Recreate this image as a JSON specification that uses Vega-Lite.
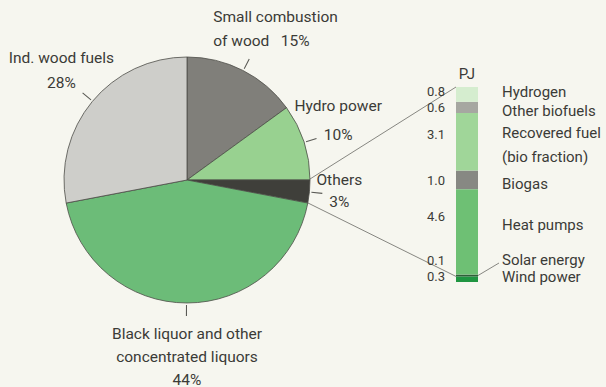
{
  "$schema": "https://vega.github.io/schema/vega-lite/v6.json",
  "width": 606,
  "height": 387,
  "autosize": {"type": "fit", "contains": "padding"},
  "padding": 0,
  "background": "#f6f6ef",
  "config": {
    "view": {"stroke": null},
    "text": {"font": "Roboto", "fill": "#3b3b37"}
  },
  "datasets": {
    "slices": [
      {"name": "Small combustion of wood", "pct": 15, "ord": 1, "caption": "Small combustion\nof wood \u00a0\u00a0"},
      {"name": "Hydro power", "pct": 10, "ord": 2, "caption": "Hydro power\n"},
      {"name": "Others", "pct": 3, "ord": 3, "caption": "Others\n"},
      {"name": "Black liquor and other concentrated liquors", "pct": 44, "ord": 4, "caption": "Black liquor and other\nconcentrated liquors\n"},
      {"name": "Ind. wood fuels", "pct": 28, "ord": 5, "caption": "Ind. wood fuels\n"}
    ],
    "others": [
      {"source": "Wind power", "pj": 0.3, "ord": 1},
      {"source": "Solar energy", "pj": 0.1, "ord": 2},
      {"source": "Heat pumps", "pj": 4.6, "ord": 3},
      {"source": "Biogas", "pj": 1.0, "ord": 4},
      {"source": "Recovered fuel\n(bio fraction)", "pj": 3.1, "ord": 5},
      {"source": "Other biofuels", "pj": 0.6, "ord": 6},
      {"source": "Hydrogen", "pj": 0.8, "ord": 7}
    ]
  },
  "layer": [
    {
      "data": {"name": "slices"},
      "transform": [
        {"stack": "pct", "groupby": [], "sort": [{"field": "ord", "order": "ascending"}], "as": ["s0", "s1"]}
      ],
      "mark": {"type": "arc", "x": 187, "y": 180, "outerRadius": 123, "stroke": "#4d4d48", "strokeWidth": 0.8},
      "encoding": {
        "theta": {"field": "s0", "type": "quantitative", "stack": null, "scale": {"domain": [0, 100], "nice": false}},
        "theta2": {"field": "s1"},
        "color": {
          "field": "name",
          "type": "nominal",
          "legend": null,
          "scale": {
            "domain": ["Small combustion of wood", "Hydro power", "Others", "Black liquor and other concentrated liquors", "Ind. wood fuels", "Hydrogen", "Other biofuels", "Recovered fuel\n(bio fraction)", "Biogas", "Heat pumps", "Solar energy", "Wind power"],
            "range": ["#807f7a", "#98d190", "#3f3f3a", "#6cbc78", "#cececa", "#d5edcf", "#a6a7a1", "#a0d699", "#878883", "#6ec074", "#2e5f38", "#1f9541"]
          }
        }
      }
    },
    {
      "data": {"name": "slices"},
      "transform": [
        {"stack": "pct", "groupby": [], "sort": [{"field": "ord", "order": "ascending"}], "as": ["s0", "s1"]},
        {"calculate": "(datum.s0 + datum.s1) / 2", "as": "mid"},
        {"calculate": "datum.mid + 0.13", "as": "mid2"}
      ],
      "mark": {"type": "arc", "x": 187, "y": 180, "innerRadius": 125, "outerRadius": 136, "fill": "#5a5a55"},
      "encoding": {
        "theta": {"field": "mid", "type": "quantitative", "stack": null, "scale": {"domain": [0, 100], "nice": false}},
        "theta2": {"field": "mid2"}
      }
    },
    {
      "data": {"name": "slices"},
      "transform": [
        {"stack": "pct", "groupby": [], "sort": [{"field": "ord", "order": "ascending"}], "as": ["s0", "s1"]},
        {"calculate": "(datum.s0 + datum.s1) / 2", "as": "mid"},
        {"calculate": "datum.caption + datum.pct + '%'", "as": "label"},
        {"filter": "datum.name === 'Small combustion of wood'"}
      ],
      "mark": {"type": "text", "x": 187, "y": 180, "radius": 170, "dx": -51, "dy": -12, "align": "left", "baseline": "middle", "fontSize": 15.5, "lineHeight": 24, "lineBreak": "\n"},
      "encoding": {
        "theta": {"field": "mid", "type": "quantitative", "stack": null, "scale": {"domain": [0, 100], "nice": false}},
        "text": {"field": "label"}
      }
    },
    {
      "data": {"name": "slices"},
      "transform": [
        {"stack": "pct", "groupby": [], "sort": [{"field": "ord", "order": "ascending"}], "as": ["s0", "s1"]},
        {"calculate": "(datum.s0 + datum.s1) / 2", "as": "mid"},
        {"calculate": "datum.caption + datum.pct + '%'", "as": "label"},
        {"filter": "datum.name === 'Hydro power'"}
      ],
      "mark": {"type": "text", "x": 187, "y": 180, "radius": 159, "dy": -25, "align": "center", "baseline": "middle", "fontSize": 15.5, "lineHeight": 29, "lineBreak": "\n"},
      "encoding": {
        "theta": {"field": "mid", "type": "quantitative", "stack": null, "scale": {"domain": [0, 100], "nice": false}},
        "text": {"field": "label"}
      }
    },
    {
      "data": {"name": "slices"},
      "transform": [
        {"stack": "pct", "groupby": [], "sort": [{"field": "ord", "order": "ascending"}], "as": ["s0", "s1"]},
        {"calculate": "(datum.s0 + datum.s1) / 2", "as": "mid"},
        {"calculate": "datum.caption + datum.pct + '%'", "as": "label"},
        {"filter": "datum.name === 'Others'"}
      ],
      "mark": {"type": "text", "x": 187, "y": 180, "radius": 153, "dy": -14, "align": "center", "baseline": "middle", "fontSize": 15.5, "lineHeight": 22, "lineBreak": "\n"},
      "encoding": {
        "theta": {"field": "mid", "type": "quantitative", "stack": null, "scale": {"domain": [0, 100], "nice": false}},
        "text": {"field": "label"}
      }
    },
    {
      "data": {"name": "slices"},
      "transform": [
        {"stack": "pct", "groupby": [], "sort": [{"field": "ord", "order": "ascending"}], "as": ["s0", "s1"]},
        {"calculate": "(datum.s0 + datum.s1) / 2", "as": "mid"},
        {"calculate": "datum.caption + datum.pct + '%'", "as": "label"},
        {"filter": "datum.name === 'Black liquor and other concentrated liquors'"}
      ],
      "mark": {"type": "text", "x": 187, "y": 180, "radius": 177, "dy": -23, "align": "center", "baseline": "middle", "fontSize": 15.5, "lineHeight": 23, "lineBreak": "\n"},
      "encoding": {
        "theta": {"field": "mid", "type": "quantitative", "stack": null, "scale": {"domain": [0, 100], "nice": false}},
        "text": {"field": "label"}
      }
    },
    {
      "data": {"name": "slices"},
      "transform": [
        {"stack": "pct", "groupby": [], "sort": [{"field": "ord", "order": "ascending"}], "as": ["s0", "s1"]},
        {"calculate": "(datum.s0 + datum.s1) / 2", "as": "mid"},
        {"calculate": "datum.caption + datum.pct + '%'", "as": "label"},
        {"filter": "datum.name === 'Ind. wood fuels'"}
      ],
      "mark": {"type": "text", "x": 187, "y": 180, "radius": 163, "dy": -18, "align": "center", "baseline": "middle", "fontSize": 15.5, "lineHeight": 25, "lineBreak": "\n"},
      "encoding": {
        "theta": {"field": "mid", "type": "quantitative", "stack": null, "scale": {"domain": [0, 100], "nice": false}},
        "text": {"field": "label"}
      }
    },
    {
      "data": {"name": "others"},
      "transform": [
        {"stack": "pj", "groupby": [], "sort": [{"field": "ord", "order": "ascending"}], "as": ["b0", "b1"]},
        {"filter": "datum.source === 'Hydrogen'"}
      ],
      "mark": {"type": "rule", "stroke": "#6a6a65", "strokeWidth": 0.8},
      "encoding": {
        "y": {"field": "b1", "type": "quantitative", "axis": null, "scale": {"domain": [0, 10.5], "range": [282, 87], "nice": false}},
        "y2": {"value": 179},
        "x": {"value": 456},
        "x2": {"value": 310}
      }
    },
    {
      "data": {"name": "others"},
      "transform": [
        {"stack": "pj", "groupby": [], "sort": [{"field": "ord", "order": "ascending"}], "as": ["b0", "b1"]},
        {"filter": "datum.source === 'Wind power'"}
      ],
      "mark": {"type": "rule", "stroke": "#6a6a65", "strokeWidth": 0.8},
      "encoding": {
        "y": {"field": "b1", "type": "quantitative", "axis": null, "scale": {"domain": [0, 10.5], "range": [282, 87], "nice": false}},
        "y2": {"value": 203},
        "x": {"value": 456},
        "x2": {"value": 308}
      }
    },
    {
      "data": {"name": "others"},
      "transform": [
        {"stack": "pj", "groupby": [], "sort": [{"field": "ord", "order": "ascending"}], "as": ["b0", "b1"]}
      ],
      "mark": {"type": "bar"},
      "encoding": {
        "x": {"datum": "PJ", "type": "nominal", "axis": null, "scale": {"type": "band", "domain": ["PJ"], "range": [456, 478], "paddingInner": 0, "paddingOuter": 0}},
        "y": {"field": "b0", "type": "quantitative", "axis": null, "scale": {"domain": [0, 10.5], "range": [282, 87], "nice": false}},
        "y2": {"field": "b1"},
        "color": {"field": "source", "type": "nominal", "legend": null}
      }
    },
    {
      "data": {"name": "others"},
      "transform": [
        {"stack": "pj", "groupby": [], "sort": [{"field": "ord", "order": "ascending"}], "as": ["b0", "b1"]},
        {"calculate": "(datum.b0 + datum.b1) / 2", "as": "mid"},
        {"filter": "datum.source === 'Solar energy'"}
      ],
      "mark": {"type": "rule", "stroke": "#6a6a65", "strokeWidth": 0.8},
      "encoding": {
        "y": {"field": "mid", "type": "quantitative", "axis": null, "scale": {"domain": [0, 10.5], "range": [282, 87], "nice": false}},
        "y2": {"value": 263},
        "x": {"value": 478},
        "x2": {"value": 499}
      }
    },
    {
      "data": {"name": "others"},
      "transform": [{"filter": "datum.source === 'Hydrogen'"}],
      "mark": {"type": "text", "text": "PJ", "dy": -13, "fontSize": 15, "align": "center", "baseline": "middle"},
      "encoding": {
        "x": {"datum": "PJ", "type": "nominal"},
        "y": {"datum": 10.5, "type": "quantitative"}
      }
    },
    {
      "data": {"name": "others"},
      "transform": [
        {"stack": "pj", "groupby": [], "sort": [{"field": "ord", "order": "ascending"}], "as": ["b0", "b1"]},
        {"calculate": "(datum.b0 + datum.b1) / 2", "as": "mid"},
        {"filter": "indexof(['Hydrogen', 'Wind power'], datum.source) >= 0"}
      ],
      "mark": {"type": "text", "dx": -40, "dy": -2, "fontSize": 13, "align": "left", "baseline": "middle"},
      "encoding": {
        "x": {"datum": "PJ", "type": "nominal"},
        "y": {"field": "mid", "type": "quantitative"},
        "text": {"field": "pj", "format": ".1f"}
      }
    },
    {
      "data": {"name": "others"},
      "transform": [
        {"stack": "pj", "groupby": [], "sort": [{"field": "ord", "order": "ascending"}], "as": ["b0", "b1"]},
        {"calculate": "(datum.b0 + datum.b1) / 2", "as": "mid"},
        {"filter": "indexof(['Other biofuels', 'Biogas'], datum.source) >= 0"}
      ],
      "mark": {"type": "text", "dx": -40, "dy": 1, "fontSize": 13, "align": "left", "baseline": "middle"},
      "encoding": {
        "x": {"datum": "PJ", "type": "nominal"},
        "y": {"field": "mid", "type": "quantitative"},
        "text": {"field": "pj", "format": ".1f"}
      }
    },
    {
      "data": {"name": "others"},
      "transform": [
        {"stack": "pj", "groupby": [], "sort": [{"field": "ord", "order": "ascending"}], "as": ["b0", "b1"]},
        {"calculate": "(datum.b0 + datum.b1) / 2", "as": "mid"},
        {"filter": "datum.ord === 5"}
      ],
      "mark": {"type": "text", "dx": -40, "dy": -7, "fontSize": 13, "align": "left", "baseline": "middle"},
      "encoding": {
        "x": {"datum": "PJ", "type": "nominal"},
        "y": {"field": "mid", "type": "quantitative"},
        "text": {"field": "pj", "format": ".1f"}
      }
    },
    {
      "data": {"name": "others"},
      "transform": [
        {"stack": "pj", "groupby": [], "sort": [{"field": "ord", "order": "ascending"}], "as": ["b0", "b1"]},
        {"calculate": "(datum.b0 + datum.b1) / 2", "as": "mid"},
        {"filter": "indexof(['Heat pumps', 'Solar energy'], datum.source) >= 0"}
      ],
      "mark": {"type": "text", "dx": -40, "dy": -15, "fontSize": 13, "align": "left", "baseline": "middle"},
      "encoding": {
        "x": {"datum": "PJ", "type": "nominal"},
        "y": {"field": "mid", "type": "quantitative"},
        "text": {"field": "pj", "format": ".1f"}
      }
    },
    {
      "data": {"name": "others"},
      "transform": [
        {"stack": "pj", "groupby": [], "sort": [{"field": "ord", "order": "ascending"}], "as": ["b0", "b1"]},
        {"calculate": "(datum.b0 + datum.b1) / 2", "as": "mid"},
        {"filter": "indexof(['Hydrogen', 'Wind power'], datum.source) >= 0"}
      ],
      "mark": {"type": "text", "dx": 35, "dy": -2, "fontSize": 15, "align": "left", "baseline": "middle"},
      "encoding": {
        "x": {"datum": "PJ", "type": "nominal"},
        "y": {"field": "mid", "type": "quantitative"},
        "text": {"field": "source"}
      }
    },
    {
      "data": {"name": "others"},
      "transform": [
        {"stack": "pj", "groupby": [], "sort": [{"field": "ord", "order": "ascending"}], "as": ["b0", "b1"]},
        {"calculate": "(datum.b0 + datum.b1) / 2", "as": "mid"},
        {"filter": "datum.ord === 4 || datum.ord === 6"}
      ],
      "mark": {"type": "text", "dx": 35, "dy": 4, "fontSize": 15, "align": "left", "baseline": "middle"},
      "encoding": {
        "x": {"datum": "PJ", "type": "nominal"},
        "y": {"field": "mid", "type": "quantitative"},
        "text": {"field": "source"}
      }
    },
    {
      "data": {"name": "others"},
      "transform": [
        {"stack": "pj", "groupby": [], "sort": [{"field": "ord", "order": "ascending"}], "as": ["b0", "b1"]},
        {"calculate": "(datum.b0 + datum.b1) / 2", "as": "mid"},
        {"filter": "datum.ord === 5"}
      ],
      "mark": {"type": "text", "dx": 35, "dy": -9, "fontSize": 15, "align": "left", "baseline": "middle", "lineBreak": "\n", "lineHeight": 24},
      "encoding": {
        "x": {"datum": "PJ", "type": "nominal"},
        "y": {"field": "mid", "type": "quantitative"},
        "text": {"field": "source"}
      }
    },
    {
      "data": {"name": "others"},
      "transform": [
        {"stack": "pj", "groupby": [], "sort": [{"field": "ord", "order": "ascending"}], "as": ["b0", "b1"]},
        {"calculate": "(datum.b0 + datum.b1) / 2", "as": "mid"},
        {"filter": "datum.source === 'Heat pumps'"}
      ],
      "mark": {"type": "text", "dx": 35, "dy": -7, "fontSize": 15, "align": "left", "baseline": "middle"},
      "encoding": {
        "x": {"datum": "PJ", "type": "nominal"},
        "y": {"field": "mid", "type": "quantitative"},
        "text": {"field": "source"}
      }
    },
    {
      "data": {"name": "others"},
      "transform": [
        {"stack": "pj", "groupby": [], "sort": [{"field": "ord", "order": "ascending"}], "as": ["b0", "b1"]},
        {"calculate": "(datum.b0 + datum.b1) / 2", "as": "mid"},
        {"filter": "datum.source === 'Solar energy'"}
      ],
      "mark": {"type": "text", "dx": 35, "dy": -15.5, "fontSize": 15, "align": "left", "baseline": "middle"},
      "encoding": {
        "x": {"datum": "PJ", "type": "nominal"},
        "y": {"field": "mid", "type": "quantitative"},
        "text": {"field": "source"}
      }
    }
  ]
}
